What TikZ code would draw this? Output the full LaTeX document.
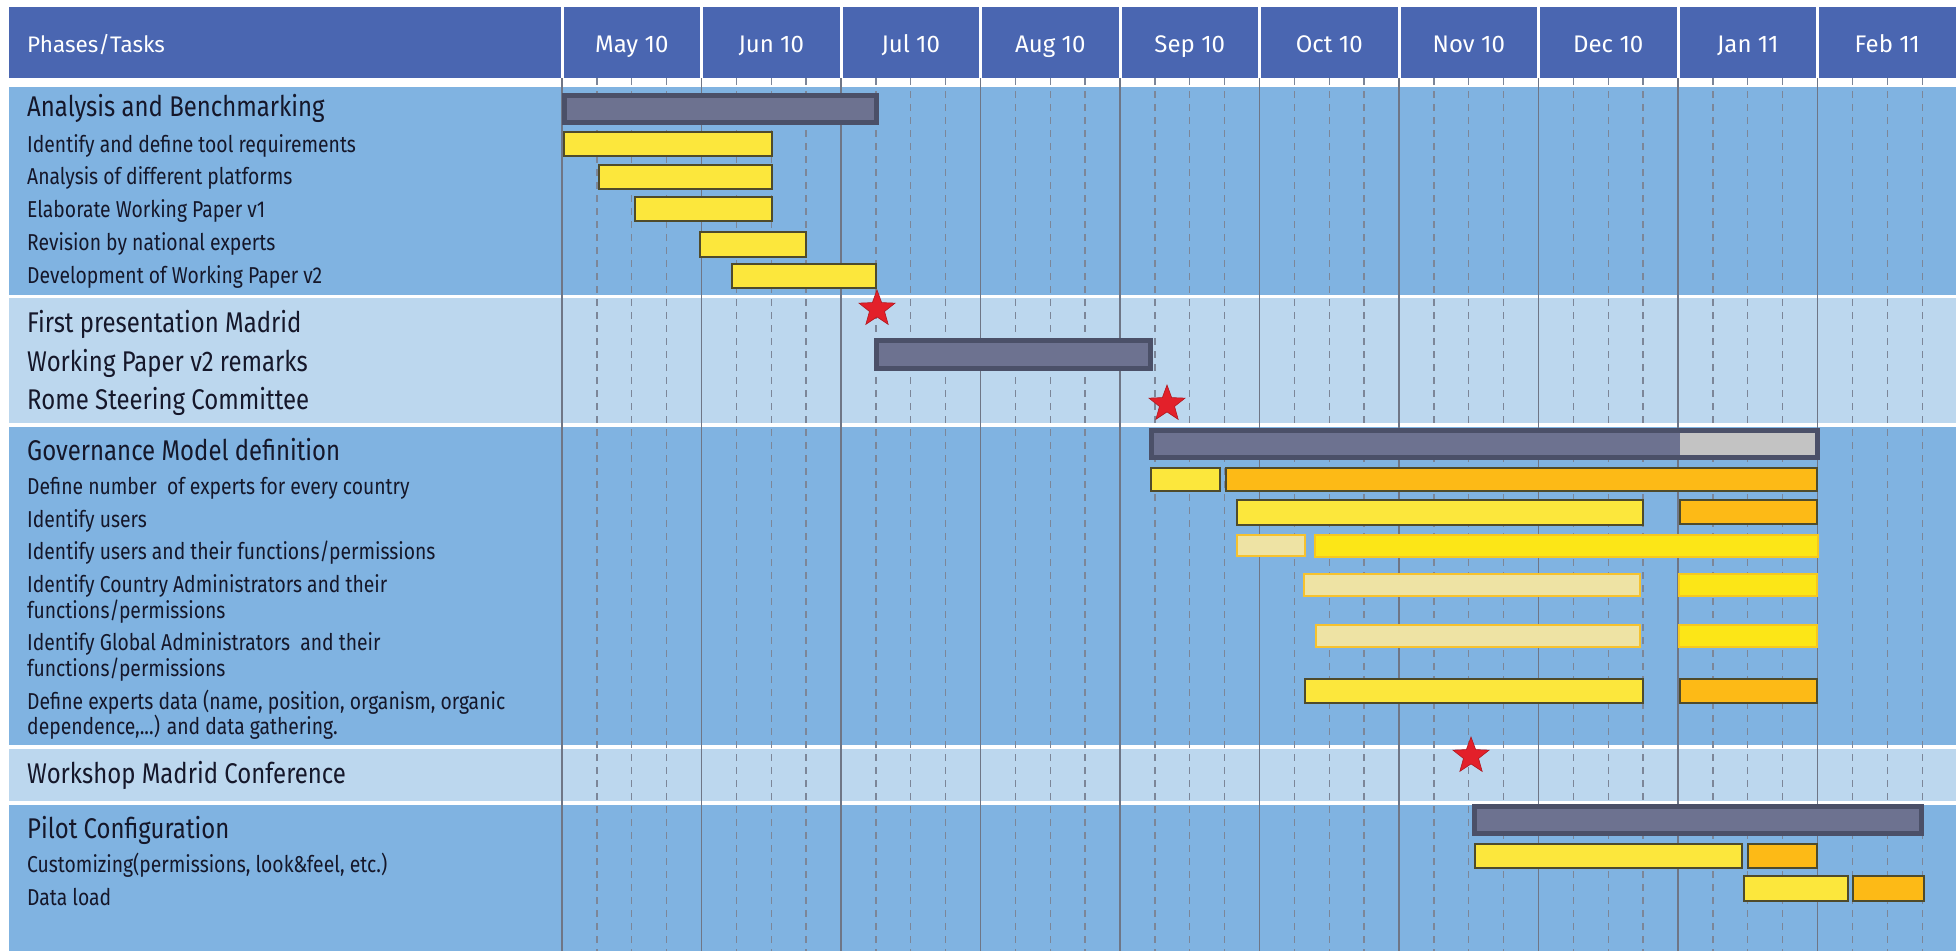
\documentclass[tikz,border=0pt]{standalone}
\usepackage{fontspec}
\setmainfont{Fira Sans}[FakeStretch=0.84]
\newfontfamily\hdrfont{Fira Sans}
\usetikzlibrary{shapes.geometric}
\definecolor{hdr}{HTML}{4A66B1}
\definecolor{bandM}{HTML}{80B3E1}
\definecolor{bandL}{HTML}{BCD7EE}
\definecolor{gridc}{HTML}{6F7686}
\definecolor{dashc}{HTML}{7C8698}
\definecolor{darkfill}{HTML}{6D7290}
\definecolor{darkdraw}{HTML}{4B5068}
\definecolor{yfill}{HTML}{FCE73C}
\definecolor{ydraw}{HTML}{4F4B2B}
\definecolor{ofill}{HTML}{FDBA16}
\definecolor{palefill}{HTML}{EEE3A4}
\definecolor{paledraw}{HTML}{F6C22E}
\definecolor{brightfill}{HTML}{FCE617}
\definecolor{brightdraw}{HTML}{F6C81E}
\definecolor{greyfill}{HTML}{C3C3C3}
\definecolor{starfill}{HTML}{E3202A}
\definecolor{stardraw}{HTML}{B01820}
\definecolor{textc}{HTML}{15172A}
\begin{document}
\begin{tikzpicture}[x=1pt,y=-1pt,
  phase/.style={font=\fontsize{28.5}{32}\selectfont, text=textc, inner sep=0pt, anchor=base west},
  task/.style={font=\fontsize{23}{26}\selectfont, text=textc, inner sep=0pt, anchor=base west},
  hdrtxt/.style={font=\hdrfont\fontsize{24}{28}\selectfont, text=white, inner sep=0pt, anchor=base},
  gridline/.style={gridc, line width=1.8pt},
  dashline/.style={dashc, line width=1.3pt, dash pattern=on 7pt off 6pt},
  darkbar/.style={fill=darkfill, draw=darkdraw, line width=5pt},
  ybar/.style={fill=yfill, draw=ydraw, line width=2.5pt},
  obar/.style={fill=ofill, draw=ydraw, line width=2.5pt},
  palebar/.style={fill=palefill, draw=paledraw, line width=2pt},
  brightbar/.style={fill=brightfill, draw=brightdraw, line width=2pt},
  milestone/.style={star, star points=5, star point ratio=2.4, fill=starfill, draw=stardraw, line width=0.6pt, minimum size=38pt, inner sep=0pt}
]
\useasboundingbox (0,0) rectangle (1959,951);
\fill[white] (0,0) rectangle (1959,951);
% bands
\fill[bandM] (9,87) rectangle (1956,295);
\fill[bandL] (9,298) rectangle (1956,423);
\fill[bandM] (9,427) rectangle (1956,745);
\fill[bandL] (9,749) rectangle (1956,801);
\fill[bandM] (9,805) rectangle (1956,951);
% header
\fill[hdr] (9,7) rectangle (1956,78);
\foreach \m in {0,...,9} \draw[white, line width=3pt] ({562+139.5*\m},7) -- ({562+139.5*\m},78);
\node[hdrtxt, anchor=base west, font=\hdrfont\fontsize{22.5}{26}\selectfont] (hph) at (27,52) {Phases/Tasks};
\foreach \lab [count=\i from 0] in {May 10,Jun 10,Jul 10,Aug 10,Sep 10,Oct 10,Nov 10,Dec 10,Jan 11,Feb 11}
  \node[hdrtxt] (hm\i) at ({631.75+139.5*\i},52) {\lab};
% grid
\foreach \m in {0,...,9} {
  \draw[gridline] ({562+139.5*\m},78) -- ({562+139.5*\m},951);
  \foreach \k in {1,2,3} \draw[dashline] ({562+139.5*\m+34.875*\k},78) -- ++(0,873);
}
% bars: analysis
\draw[darkbar] (564.5,95.5) rectangle (876.5,122.5);
\draw[ybar] (564,132) rectangle (772,156);
\draw[ybar] (599,165) rectangle (772,189);
\draw[ybar] (635,197) rectangle (772,221);
\draw[ybar] (700,232) rectangle (806,257);
\draw[ybar] (732,264) rectangle (876,288);
% working paper remarks
\draw[darkbar] (876.5,340.5) rectangle (1150.5,368.5);
% governance
\draw[darkbar] (1151.5,430.5) rectangle (1817.5,457.5);
\fill[greyfill] (1680,433) rectangle (1815,455);
\draw[ybar] (1151,468) rectangle (1220,491);
\draw[obar] (1226,468) rectangle (1817,491);
\draw[ybar] (1237,500) rectangle (1643,525);
\draw[obar] (1680,500) rectangle (1817,524);
\draw[palebar] (1237,535) rectangle (1305,556);
\draw[brightbar] (1315,535) rectangle (1818,557);
\draw[palebar] (1304,574) rectangle (1640,596);
\draw[brightbar] (1679,574) rectangle (1817,596);
\draw[palebar] (1316,625) rectangle (1640,647);
\draw[brightbar] (1679,625) rectangle (1817,647);
\draw[ybar] (1305,679) rectangle (1643,703);
\draw[obar] (1680,679) rectangle (1817,703);
% pilot
\draw[darkbar] (1474.5,806.5) rectangle (1921.5,833.5);
\draw[ybar] (1475,844) rectangle (1742,868);
\draw[obar] (1748,844) rectangle (1817,868);
\draw[ybar] (1744,876) rectangle (1848,901);
\draw[obar] (1853,876) rectangle (1924,901);
% milestones
\node[milestone] (s1) at (877,309) {};
\node[milestone] (s2) at (1167,404) {};
\node[milestone] (s3) at (1471,756) {};
% labels
\node[phase] (p1) at (27,116) {Analysis and Benchmarking};
\node[task] (t11) at (27,152) {Identify and define tool requirements};
\node[task] (t12) at (27,184) {Analysis of different platforms};
\node[task] (t13) at (27,217) {Elaborate Working Paper v1};
\node[task] (t14) at (27,250) {Revision by national experts};
\node[task] (t15) at (27,283) {Development of Working Paper v2};
\node[phase] (p2) at (27,332) {First presentation Madrid};
\node[phase] (p3) at (27,371) {Working Paper v2 remarks};
\node[phase] (p4) at (27,409) {Rome Steering Committee};
\node[phase] (p5) at (27,460) {Governance Model definition};
\node[task] (t51) at (27,494) {Define number\ \ of experts for every country};
\node[task] (t52) at (27,527) {Identify users};
\node[task] (t53) at (27,559) {Identify users and their functions/permissions};
\node[task] (t54a) at (27,592) {Identify Country Administrators and their};
\node[task] (t54b) at (27,618) {functions/permissions};
\node[task] (t55a) at (27,650) {Identify Global Administrators\ \ and their};
\node[task] (t55b) at (27,676) {functions/permissions};
\node[task] (t56a) at (27,709) {Define experts data (name, position, organism, organic};
\node[task] (t56b) at (27,734) {dependence,...) and data gathering.};
\node[phase] (p6) at (27,783) {Workshop Madrid Conference};
\node[phase] (p7) at (27,838) {Pilot Configuration};
\node[task] (t71) at (27,872) {Customizing(permissions, look\&feel, etc.)};
\node[task] (t72) at (27,905) {Data load};
\end{tikzpicture}
\end{document}
